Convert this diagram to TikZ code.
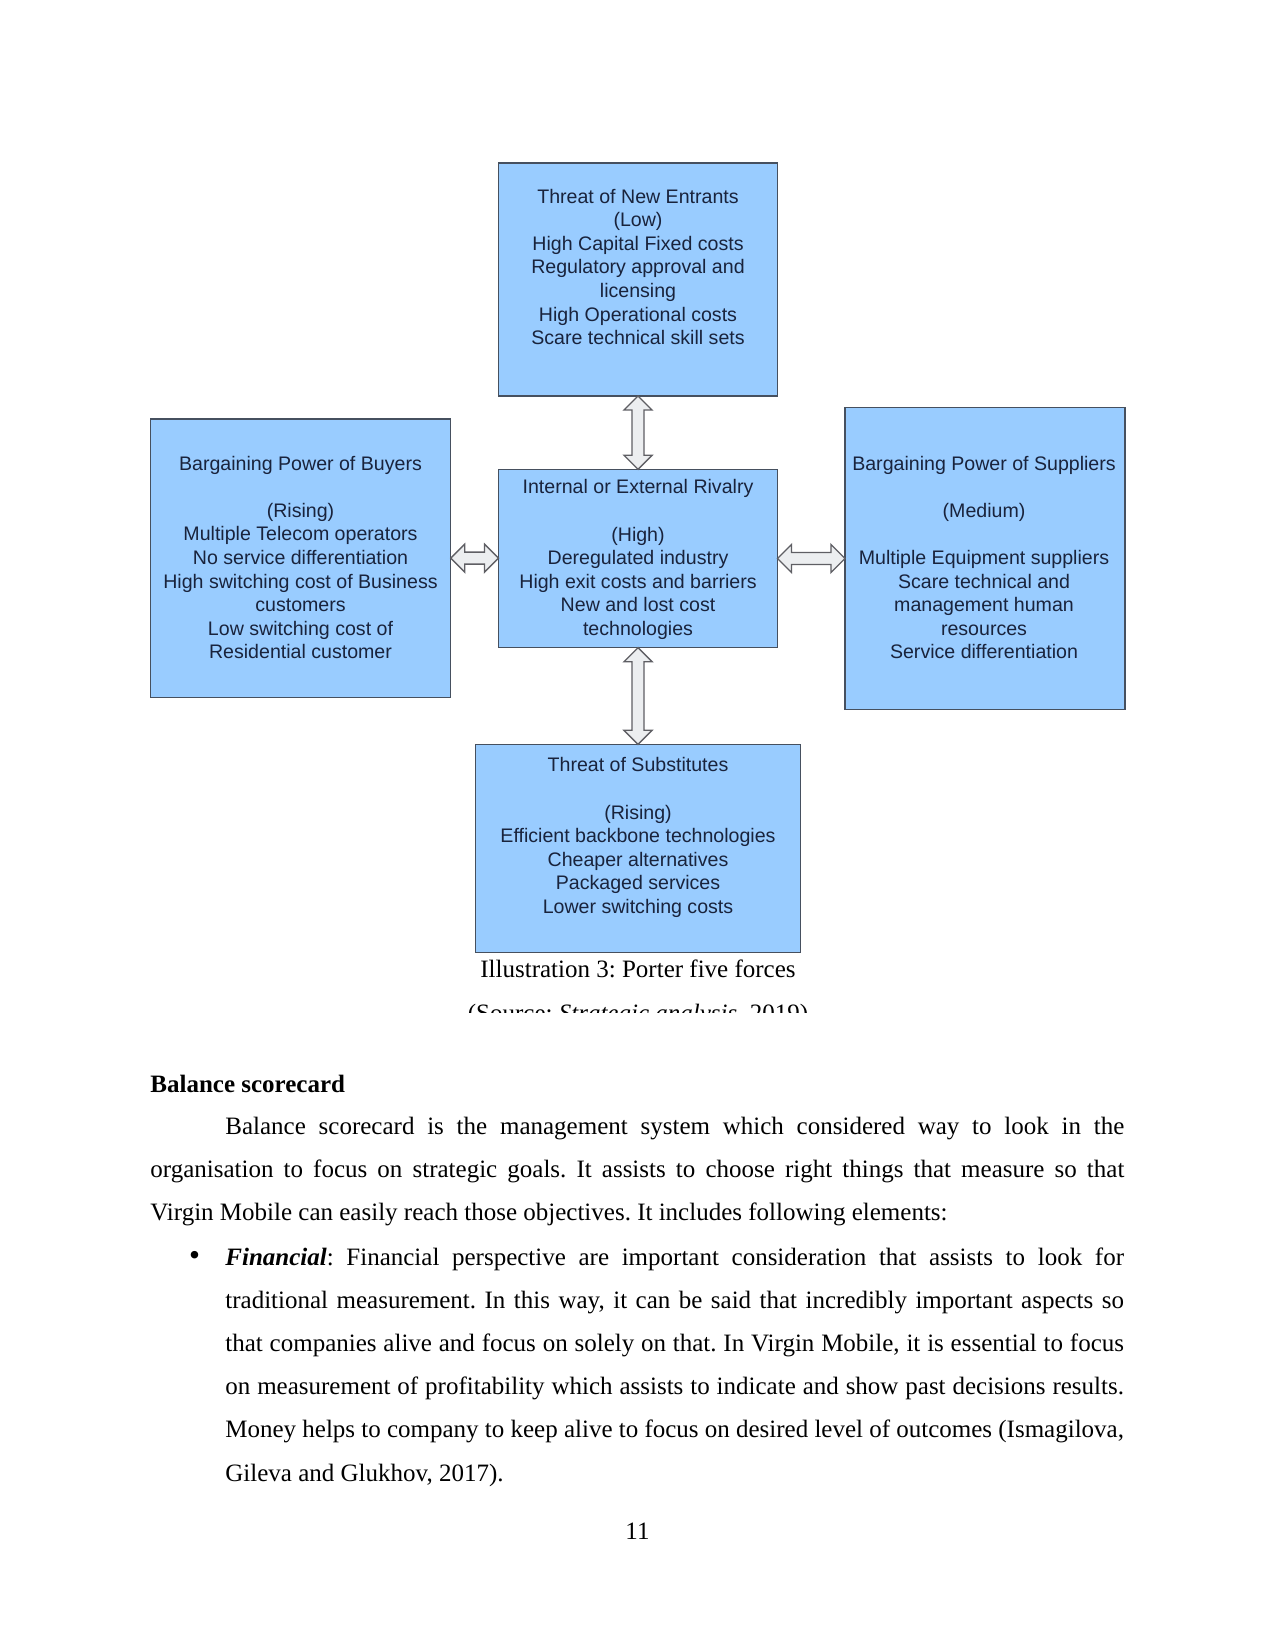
\documentclass[tikz,border=0pt]{standalone}
\usepackage{fontspec}
\setmainfont{Liberation Serif}
\newfontfamily\boxfont{Liberation Sans}
\usetikzlibrary{fit,calc}
\definecolor{boxfill}{RGB}{153,204,255}
\definecolor{boxline}{RGB}{70,80,95}
\definecolor{boxtext}{RGB}{25,35,60}
\definecolor{arrfill}{RGB}{236,238,240}
\definecolor{arrline}{RGB}{95,95,100}
\newcommand\vdblarrow[2]{%
  \draw[dblarrow] let \p1=(#1.south), \p2=(#2.north) in
    (\x1,\y1) -- ({\x1+6.72pt},{\y1-6.72pt}) -- ({\x1+2.88pt},{\y1-6.72pt})
    -- ({\x1+2.88pt},{\y2+6.72pt}) -- ({\x1+6.72pt},{\y2+6.72pt}) -- (\x1,\y2)
    -- ({\x1-6.72pt},{\y2+6.72pt}) -- ({\x1-2.88pt},{\y2+6.72pt})
    -- ({\x1-2.88pt},{\y1-6.72pt}) -- ({\x1-6.72pt},{\y1-6.72pt}) -- cycle;}
\newcommand\hdblarrow[2]{%
  \draw[dblarrow] let \p1=(#1.east), \p2=(#2.west) in
    (\x1,\y1) -- ({\x1+6.72pt},{\y1+6.72pt}) -- ({\x1+6.72pt},{\y1+2.88pt})
    -- ({\x2-6.72pt},{\y1+2.88pt}) -- ({\x2-6.72pt},{\y1+6.72pt}) -- (\x2,\y1)
    -- ({\x2-6.72pt},{\y1-6.72pt}) -- ({\x2-6.72pt},{\y1-2.88pt})
    -- ({\x1+6.72pt},{\y1-2.88pt}) -- ({\x1+6.72pt},{\y1-6.72pt}) -- cycle;}
\frenchspacing
\begin{document}
\begin{tikzpicture}[x=0.48pt,y=-0.48pt,
  forcebox/.style={draw=boxline, fill=boxfill, line width=0.75pt, inner sep=0pt, outer sep=0pt},
  forcetext/.style={font=\boxfont\fontsize{9.4}{11.3}\selectfont, text=boxtext, align=center, inner sep=0pt},
  dblarrow/.style={draw=arrline, fill=arrfill, line width=0.65pt, line join=miter},
  body/.style={font=\frenchspacing\fontsize{12}{20.75}\selectfont, inner sep=0pt, text width=467.5pt, align=justify, anchor=base west},
  plain/.style={font=\fontsize{12}{20.75}\selectfont, inner sep=0pt}]
\fill[white] (0,0) rectangle (1275,1650);
\path[use as bounding box] (0,0) rectangle (1275,1650);

% boxes
\node[forcebox, fit={(498.5,163) (777.5,396)}] (top) {};
\node[forcebox, fit={(150.5,419) (450.7,697.3)}] (left) {};
\node[forcebox, fit={(498.5,469.3) (777.5,647.7)}] (mid) {};
\node[forcebox, fit={(845,407.3) (1124.8,709.3)}] (right) {};
\node[forcebox, fit={(475.3,744.3) (800.7,952.5)}] (bottom) {};

% texts
\node[forcetext] (toptext) at (638,267) {Threat of New Entrants\\(Low)\\High Capital Fixed costs\\Regulatory approval and\\licensing\\High Operational costs\\Scare technical skill sets};
\node[forcetext] (lefttext) at (300.5,557.5) {Bargaining Power of Buyers\\~\\(Rising)\\Multiple Telecom operators\\No service differentiation\\High switching cost of Business\\customers\\Low switching cost of\\Residential customer};
\node[forcetext] (midtext) at (638,559.5) {Internal or External Rivalry\\~\\(High)\\Deregulated industry\\High exit costs and barriers\\New and lost cost\\technologies};
\node[forcetext] (righttext) at (984,557.5) {Bargaining Power of Suppliers\\~\\(Medium)\\~\\Multiple Equipment suppliers\\Scare technical and\\management human\\resources\\Service differentiation};
\node[forcetext] (bottomtext) at (638,837.5) {Threat of Substitutes\\~\\(Rising)\\Efficient backbone technologies\\Cheaper alternatives\\Packaged services\\Lower switching costs};

% arrows
\vdblarrow{top}{mid}
\vdblarrow{mid}{bottom}
\hdblarrow{left}{mid}
\hdblarrow{mid}{right}

% caption
\node[plain, anchor=base] (cap) at (638,977) {Illustration 3: Porter five forces};
\begin{scope}
\clip (0,0) rectangle (1275,1012);
\node[plain, anchor=base] (src) at (638,1021) {(Source: \textit{Strategic analysis}, 2019)};
\end{scope}

% body text
\node[plain, anchor=base west, font=\bfseries\fontsize{12}{14}\selectfont] (head) at (150,1092.5) {Balance scorecard};
\node[body] (para) at (150,1134.5) {\hspace*{36pt}Balance scorecard is the management system which considered way to look in the\linebreak organisation to focus on strategic goals. It assists to choose right things that measure so that\linebreak Virgin Mobile can easily reach those objectives. It includes following elements:};
\node[plain, anchor=base, font=\fontsize{15}{16}\selectfont] (bul) at (194.6,1265) {\textbullet};
\node[body, text width=431.3pt] (item) at (225,1265) {\textbf{\textit{Financial}}: Financial perspective are important consideration that assists to look for\linebreak traditional measurement. In this way, it can be said that incredibly important aspects so\linebreak that companies alive and focus on solely on that. In Virgin Mobile, it is essential to focus\linebreak on measurement of profitability which assists to indicate and show past decisions results.\linebreak Money helps to company to keep alive to focus on desired level of outcomes (Ismagilova,\linebreak Gileva and Glukhov, 2017).};
\node[plain, anchor=base] (pnum) at (637.5,1539.5) {11};
\end{tikzpicture}
\end{document}
